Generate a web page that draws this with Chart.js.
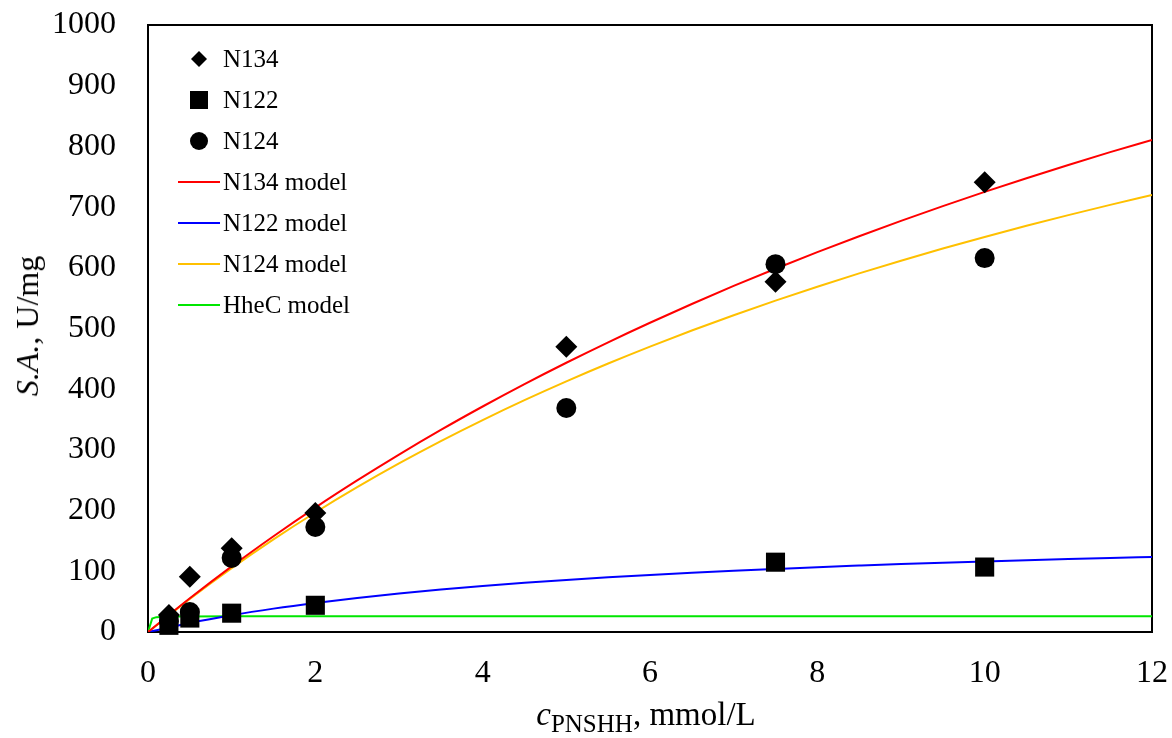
<!DOCTYPE html>
<html>
<head>
<meta charset="utf-8">
<script src="https://cdn.jsdelivr.net/npm/chart.js@4.4.1/dist/chart.umd.min.js"></script>
<style>
    html, body { margin: 0; padding: 0; background: #fff; }
    #wrap { position: relative; width: 1172px; height: 738px; font-family: "Liberation Serif", "Times New Roman", serif; color: #000; }
    #chart { position: absolute; left: 0; top: 0; }
    #xTitle { position: absolute; left: 0; width: 1172px; top: 696px; text-align: center; font-size: 33px; line-height: 36px; padding-left: 120px; box-sizing: border-box; }
    #xTitle sub { font-size: 25px; vertical-align: -7px; line-height: 0; }
    #yTitle { position: absolute; left: 27px; top: 326px; font-size: 32px; line-height: 36px; white-space: nowrap; transform: translate(-50%, -50%) rotate(-90deg); }
</style>
</head>
<body>
<div id="wrap">
    <canvas id="chart" width="1172" height="738"></canvas>
    <div id="xTitle"><i>c</i><sub>PNSHH</sub>, mmol/L</div>
    <div id="yTitle"><i>S.A.</i>, U/mg</div>
</div>
<script>
// measured points
const n134X = [0.25, 0.5, 1, 2, 5, 7.5, 10];
const n134Y = [28, 91, 138, 196, 470, 577, 741];
const n122X = [0.25, 0.5, 1, 2, 7.5, 10];
const n122Y = [11, 23, 31, 44, 115, 107];
const n124X = [0.25, 0.5, 1, 2, 5, 7.5, 10];
const n124Y = [18, 33, 122, 173, 369, 606, 616];

// model curves
const modelX = [0, 0.5, 1, 1.5, 2, 2.5, 3, 3.5, 4, 4.5, 5, 5.5, 6, 6.5, 7, 7.5, 8, 8.5, 9, 9.5, 10, 10.5, 11, 11.5, 12];
const n134Model = [0, 55.5, 108.1, 157.8, 205.0, 249.7, 292.3, 332.9, 371.5, 408.4, 443.6, 477.3, 509.5, 540.4, 570.1, 598.5, 625.8, 652.0, 677.3, 701.6, 725.0, 747.6, 769.4, 790.5, 810.8];
const n122Model = [0, 14.9, 27.6, 38.5, 47.9, 56.1, 63.4, 69.9, 75.7, 81.0, 85.7, 90.0, 93.9, 97.6, 100.9, 103.9, 106.8, 109.4, 111.9, 114.2, 116.3, 118.3, 120.2, 122.0, 123.7];
const n124Model = [0, 54.5, 105.2, 152.6, 196.9, 238.5, 277.6, 314.4, 349.1, 381.9, 412.9, 442.3, 470.2, 496.7, 521.9, 546.0, 568.9, 590.8, 611.7, 631.7, 650.8, 669.2, 686.8, 703.7, 720.0];
const hhecX = [0, 0.05, 0.1, 0.25, 0.5, 1, 2, 4, 6, 8, 10, 12];
const hhecModel = [0, 22, 24.5, 25.5, 25.7, 25.8, 25.9, 26, 26, 26, 26, 26];

const xTicks = [0, 2, 4, 6, 8, 10, 12];
const yTicks = [0, 100, 200, 300, 400, 500, 600, 700, 800, 900, 1000];

function pts(xs, ys) 
{
    return xs.map(function(x, i) { return { x: x, y: ys[i] }; });
}

const legendItems = [
    { label: "N134", kind: "diamond" },
    { label: "N122", kind: "square" },
    { label: "N124", kind: "circle" },
    { label: "N134 model", kind: "line", color: "#ff0000" },
    { label: "N122 model", kind: "line", color: "#0000ff" },
    { label: "N124 model", kind: "line", color: "#ffc000" },
    { label: "HheC model", kind: "line", color: "#00e600" }
];

// frame around the plot area
const framePlugin = 
{
    id: "frame",
    beforeDatasetsDraw: function(chart) 
    {
        const a = chart.chartArea;
        const ctx = chart.ctx;
        ctx.save();
        ctx.strokeStyle = "#000";
        ctx.lineWidth = 2;
        ctx.strokeRect(a.left, a.top, a.right - a.left, a.bottom - a.top);
        ctx.restore();
    }
};

// legend inside the plot, top left
const legendPlugin = 
{
    id: "innerLegend",
    afterDraw: function(chart) 
    {
        const ctx = chart.ctx;
        ctx.save();
        ctx.font = "25px 'Liberation Serif'";
        ctx.textBaseline = "middle";
        ctx.fillStyle = "#000";
        legendItems.forEach(function(it, i) 
        {
            const y = 59 + i * 41;
            const mx = 199;
            ctx.fillStyle = "#000";
            if (it.kind === "diamond") 
            {
                ctx.beginPath();
                ctx.moveTo(mx - 8, y); ctx.lineTo(mx, y - 8); ctx.lineTo(mx + 8, y); ctx.lineTo(mx, y + 8);
                ctx.closePath(); ctx.fill();
            }
            else if (it.kind === "square") 
            {
                ctx.fillRect(mx - 9, y - 9, 18, 18);
            }
            else if (it.kind === "circle") 
            {
                ctx.beginPath(); ctx.arc(mx, y, 9, 0, Math.PI * 2); ctx.fill();
            }
            else 
            {
                ctx.strokeStyle = it.color;
                ctx.lineWidth = 2;
                ctx.beginPath(); ctx.moveTo(178, y); ctx.lineTo(220, y); ctx.stroke();
            }
            ctx.fillStyle = "#000";
            ctx.fillText(it.label, 223, y + 1);
        });
        ctx.restore();
    }
};

const tickFont = { family: "'Liberation Serif', 'Times New Roman', serif", size: 32 };

new Chart(document.getElementById("chart"), 
{
    type: "scatter",
    data: 
    {
        datasets: [
            { label: "N134", data: pts(n134X, n134Y), pointStyle: "rectRot", pointRadius: 11, backgroundColor: "#000", borderColor: "#000", borderWidth: 0, order: 0, clip: false },
            { label: "N122", data: pts(n122X, n122Y), pointStyle: "rect", pointRadius: 13.5, backgroundColor: "#000", borderColor: "#000", borderWidth: 0, order: 0, clip: false },
            { label: "N124", data: pts(n124X, n124Y), pointStyle: "circle", pointRadius: 10, backgroundColor: "#000", borderColor: "#000", borderWidth: 0, order: 0, clip: false },
            { label: "N134 model", data: pts(modelX, n134Model), showLine: true, pointRadius: 0, borderColor: "#ff0000", borderWidth: 2, cubicInterpolationMode: "monotone", order: 1 },
            { label: "N122 model", data: pts(modelX, n122Model), showLine: true, pointRadius: 0, borderColor: "#0000ff", borderWidth: 2, cubicInterpolationMode: "monotone", order: 1 },
            { label: "N124 model", data: pts(modelX, n124Model), showLine: true, pointRadius: 0, borderColor: "#ffc000", borderWidth: 2, cubicInterpolationMode: "monotone", order: 1 },
            { label: "HheC model", data: pts(hhecX, hhecModel), showLine: true, pointRadius: 0, borderColor: "#00e600", borderWidth: 2, order: 1 }
        ]
    },
    options: 
    {
        responsive: false,
        animation: false,
        layout: { padding: { left: 0, right: 20, top: 25, bottom: 0 } },
        plugins: 
        {
            legend: { display: false },
            tooltip: { enabled: false }
        },
        scales: 
        {
            x: 
            {
                type: "linear",
                min: 0,
                max: 12,
                afterBuildTicks: function(axis) { axis.ticks = xTicks.map(function(v) { return { value: v }; }); },
                afterFit: function(axis) 
                {
                    axis.height = 106;
                    axis.paddingLeft = 0;
                    axis.paddingRight = 0;
                },
                grid: { display: false, drawTicks: false },
                border: { display: false },
                ticks: 
                { 
                    font: tickFont, color: "#000", padding: 22, maxRotation: 0,
                    callback: function(v) { return String(v); }
                }
            },
            y: 
            {
                type: "linear",
                min: 0,
                max: 1000,
                afterBuildTicks: function(axis) { axis.ticks = yTicks.map(function(v) { return { value: v }; }); },
                afterFit: function(axis) 
                {
                    axis.width = 148;
                    axis.paddingTop = 0;
                    axis.paddingBottom = 0;
                },
                grid: { display: false, drawTicks: false },
                border: { display: false },
                ticks: 
                { 
                    font: tickFont, color: "#000", padding: 32,
                    callback: function(v) { return String(v); }
                }
            }
        }
    },
    plugins: [framePlugin, legendPlugin]
});
</script>
</body>
</html>
